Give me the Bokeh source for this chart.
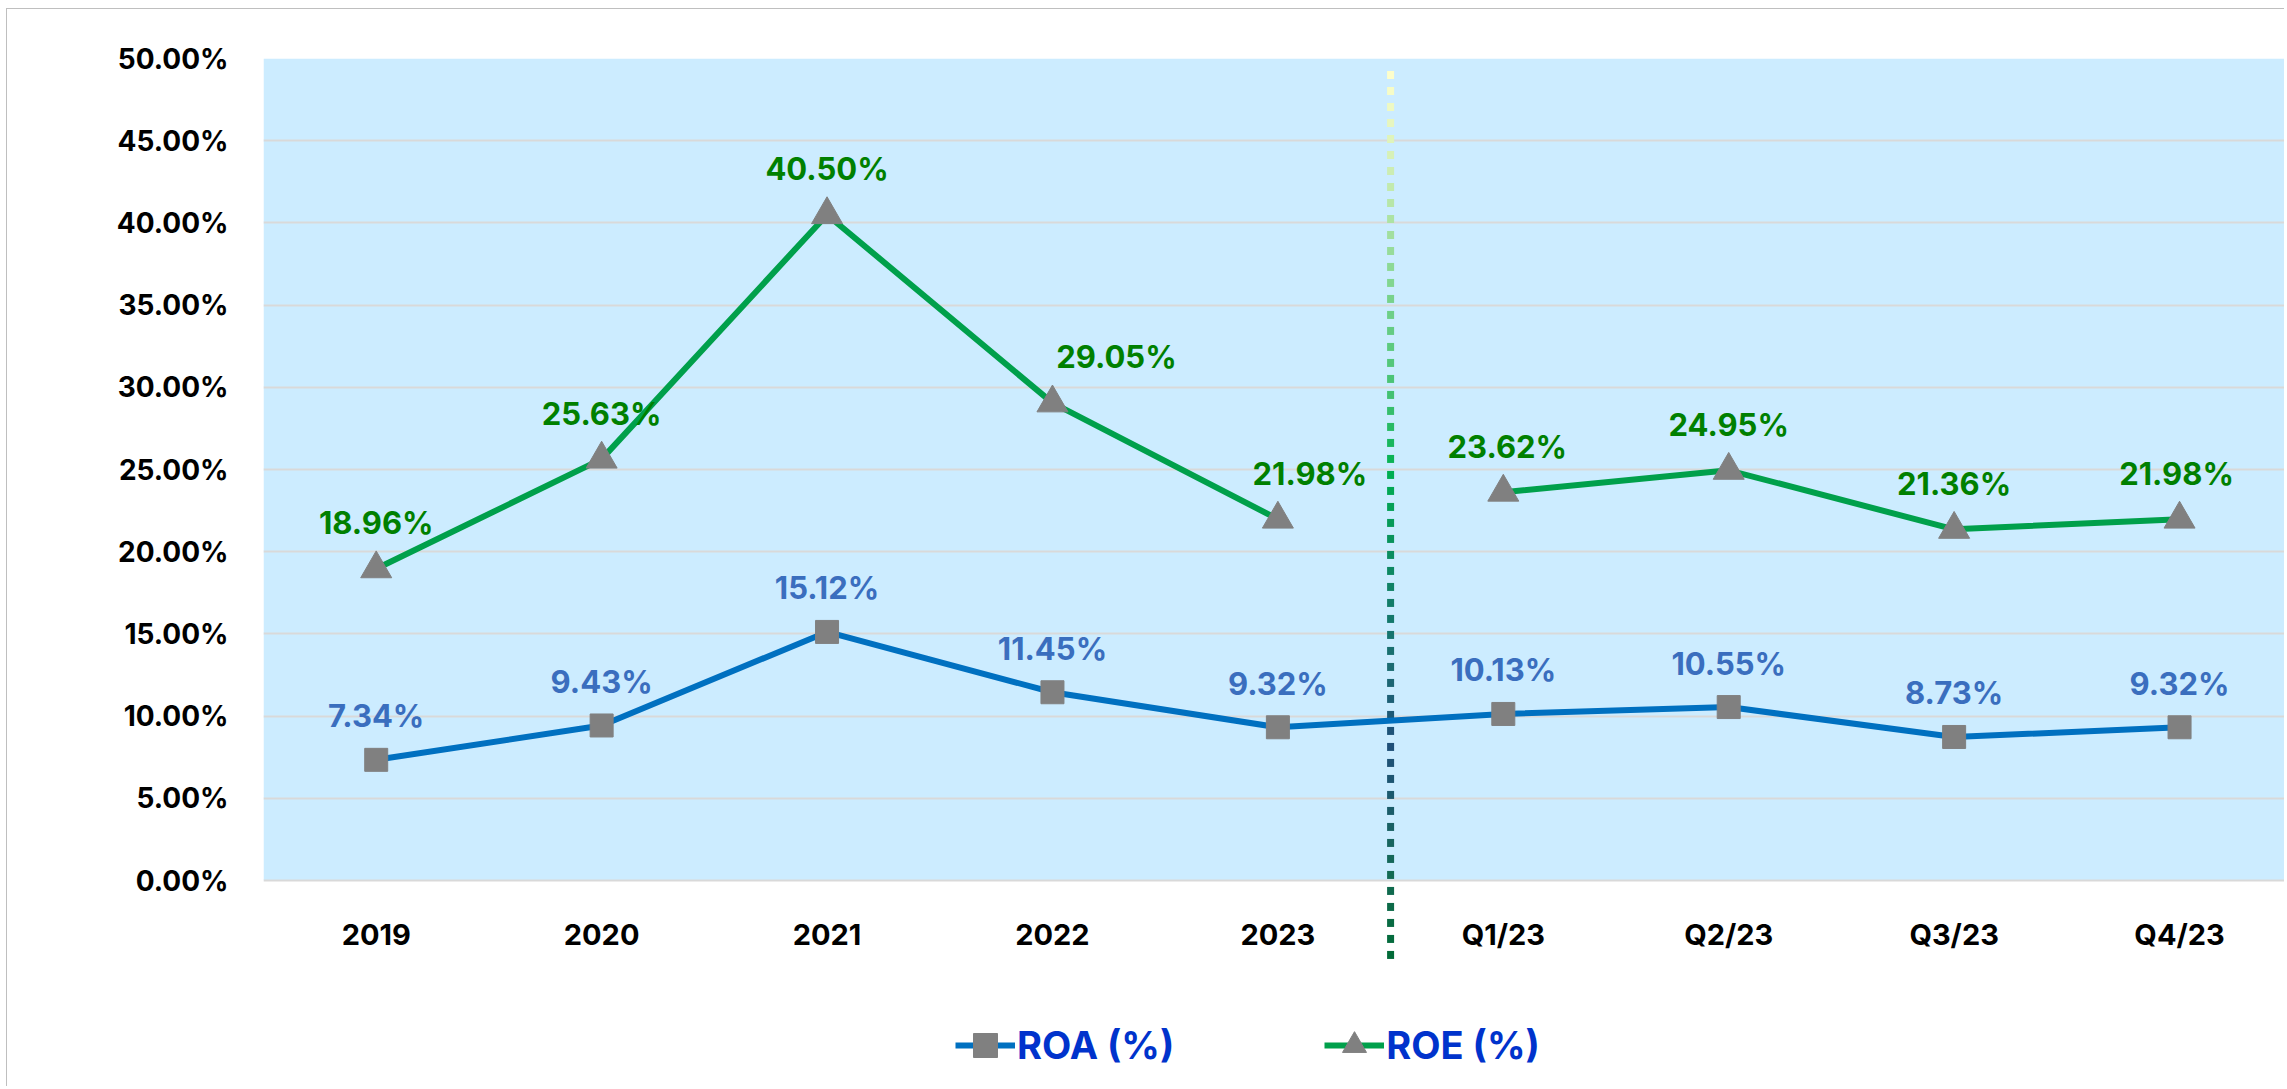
import numpy as np
from bokeh.plotting import figure
from bokeh.models import (Range1d, FixedTicker, BoxAnnotation, ColumnDataSource,
                          Legend, LegendItem)
from bokeh.core.properties import value
from bokeh.embed import file_html
from bokeh.resources import INLINE

# ---------------- data ----------------
categories = ["2019", "2020", "2021", "2022", "2023", "Q1/23", "Q2/23", "Q3/23", "Q4/23"]
roa = [7.34, 9.43, 15.12, 11.45, 9.32, 10.13, 10.55, 8.73, 9.32]
roe = [18.96, 25.63, 40.50, 29.05, 21.98, 23.62, 24.95, 21.36, 21.98]
n_annual = 5  # first five categories are years, the rest are quarters
y_ticks = [0, 5, 10, 15, 20, 25, 30, 35, 40, 45, 50]
y_tick_labels = [f"{t:.2f}%" for t in y_ticks]

# ---------------- styling ----------------
FONT = "Inter"
ROA_LINE = "#0070C0"
ROE_LINE = "#00A04B"
MARKER = "#808080"
# horizontal nudges (screen px) of the ROE value labels, as placed in the original
roe_label_dx = [0, 0, 0, 64, 32, 4, 0, 0, -3]

xs = list(range(len(categories)))

p = figure(width=2278, height=1078,
           x_range=Range1d(-0.5, len(categories) - 0.5 - 0.03),
           y_range=Range1d(-(1078 + 9 - 880) / 16.44, 50),
           output_backend="svg", toolbar_location=None,
           min_border_left=256, min_border_right=0,
           min_border_top=49, min_border_bottom=0,
           styles={"margin-left": "6px", "margin-top": "8px",
                   "border-left": "1px solid #BFBFBF", "border-top": "1px solid #BFBFBF"})
p.background_fill_color = "white"
p.border_fill_color = "white"
p.outline_line_color = None

# blue plot area (0% .. 50%)
p.add_layout(BoxAnnotation(bottom=y_ticks[0], top=y_ticks[-1], fill_color="#CCECFF",
                           fill_alpha=1, line_color=None, level="image"))

# grid
p.xgrid.grid_line_color = None
p.ygrid.ticker = FixedTicker(ticks=y_ticks)
p.ygrid.grid_line_color = "#D9D9D9"
p.ygrid.grid_line_width = 2

# y axis
p.yaxis.ticker = FixedTicker(ticks=y_ticks)
p.yaxis.major_label_overrides = {t: l for t, l in zip(y_ticks, y_tick_labels)}
p.yaxis.axis_line_color = None
p.yaxis.major_tick_line_color = None
p.yaxis.minor_tick_line_color = None
p.yaxis.major_label_standoff = 29
p.yaxis.major_label_text_font = FONT
p.yaxis.major_label_text_font_style = "bold"
p.yaxis.major_label_text_font_size = "28px"
p.yaxis.major_label_text_color = "black"

# x axis, drawn at 0%
p.xaxis.fixed_location = 0
p.xaxis.ticker = FixedTicker(ticks=xs)
p.xaxis.major_label_overrides = {i: c for i, c in enumerate(categories)}
p.xaxis.axis_line_color = None
p.xaxis.major_tick_line_color = None
p.xaxis.minor_tick_line_color = None
p.xaxis.major_label_standoff = 30
p.xaxis.major_label_text_font = FONT
p.xaxis.major_label_text_font_style = "bold"
p.xaxis.major_label_text_font_size = "29px"
p.xaxis.major_label_text_color = "black"

# ---------------- divider between years and quarters (gradient dotted line) ----------------
px_per_unit = 16.44
stop_px = [70, 150, 230, 310, 400, 470, 533, 600, 670, 743, 800, 870, 963]
stop_col = ["#FFFFCC", "#DAF2B8", "#A5E0A0", "#70D088", "#40C070", "#00B050", "#07955A",
            "#127D68", "#1B6A72", "#1F4E79", "#1C5A6C", "#146A55", "#006B35"]
stop_rgb = np.array([[int(c[i:i + 2], 16) for i in (1, 3, 5)] for c in stop_col])
dash_y = np.arange(49.0, -5.1, -16 / px_per_unit)
dash_px = 880 - dash_y * px_per_unit
dash_cols = []
for v in dash_px:
    rgb = [int(round(np.interp(v, stop_px, stop_rgb[:, k]))) for k in range(3)]
    dash_cols.append("#%02x%02x%02x" % tuple(rgb))
p.rect(x=[n_annual - 0.5] * len(dash_y), y=dash_y, width=7, height=8,
       width_units="screen", height_units="screen",
       fill_color=dash_cols, line_color=None)

# ---------------- series ----------------
roa_line = p.line(xs, roa, line_color=ROA_LINE, line_width=6)
roa_pts = p.scatter(xs, roa, marker="square", size=23, fill_color=MARKER, line_color=MARKER)

roe_line_a = p.line(xs[:n_annual], roe[:n_annual], line_color=ROE_LINE, line_width=6)
roe_line_b = p.line(xs[n_annual:], roe[n_annual:], line_color=ROE_LINE, line_width=6)
roe_pts = p.scatter(xs, roe, marker="triangle", size=31, fill_color=MARKER, line_color=MARKER)

roa_src = ColumnDataSource(dict(x=xs, y=roa, t=[f"{v:.2f}%" for v in roa]))
roe_src = ColumnDataSource(dict(x=xs, y=roe, t=[f"{v:.2f}%" for v in roe], dx=roe_label_dx))
p.text(x="x", y="y", text="t", source=roa_src, y_offset=-44,
       text_align="center", text_baseline="middle",
       text_font=value(FONT), text_font_style="bold", text_font_size="31px",
       text_color="#3A6EBE")
p.text(x="x", y="y", text="t", source=roe_src, x_offset="dx", y_offset=-46,
       text_align="center", text_baseline="middle",
       text_font=value(FONT), text_font_style="bold", text_font_size="31px",
       text_color="#008000")

# ---------------- legend ----------------
legend = Legend(items=[LegendItem(label="ROA (%)", renderers=[roa_line, roa_pts]),
                       LegendItem(label="ROE (%)", renderers=[roe_line_a, roe_pts])],
                orientation="horizontal", location=(692, 12),
                label_text_font=FONT, label_text_font_style="bold",
                label_text_font_size="38px", label_text_color="#0033CC",
                glyph_width=60, glyph_height=60, spacing=150, padding=0, margin=0,
                label_standoff=2, border_line_color=None, background_fill_alpha=0)
p.add_layout(legend)

open("out.html", "w").write(file_html(p, INLINE))
